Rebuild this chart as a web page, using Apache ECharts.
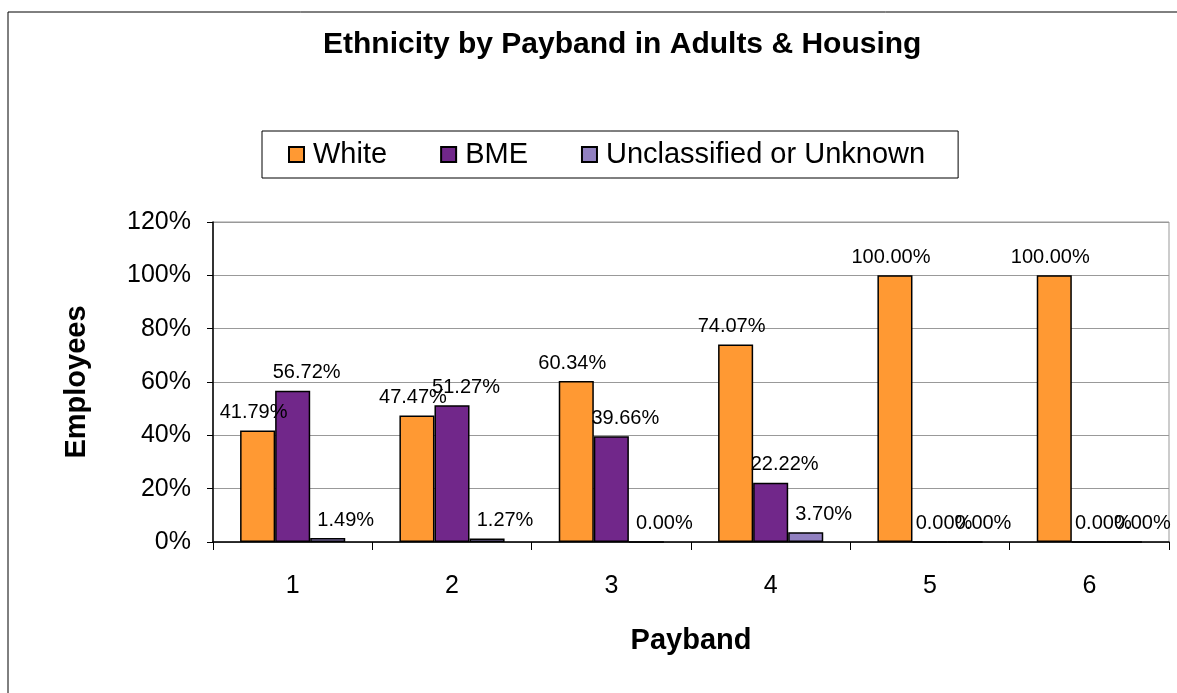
<!DOCTYPE html>
<html>
<head>
<meta charset="utf-8">
<script src="https://cdn.jsdelivr.net/npm/echarts@6/dist/echarts.min.js"></script>
<style>
  html, body { margin: 0; padding: 0; background: #fff; }
  #main { width: 1177px; height: 693px; }
</style>
</head>
<body>
<div id="main"></div>
<script>
// 数据
var paybands = ['1', '2', '3', '4', '5', '6'];
var white = [41.79, 47.47, 60.34, 74.07, 100.00, 100.00];
var bme = [56.72, 51.27, 39.66, 22.22, 0.00, 0.00];
var unknown = [1.49, 1.27, 0.00, 3.70, 0.00, 0.00];
var yTicks = [0, 20, 40, 60, 80, 100, 120];

var font = 'Liberation Sans, Arial, sans-serif';

function pct(p) {
    return p.value.toFixed(2) + '%';
}

function makeSeries(name, data, color, offsetX) {
    return {
        name: name,
        type: 'bar',
        data: data,
        barGap: '0%',
        barCategoryGap: '34%',
        itemStyle: { color: color, borderColor: '#000', borderWidth: 1.5 },
        label: {
            show: true,
            position: 'top',
            distance: 8,
            offset: [offsetX, 0],
            formatter: pct,
            color: '#000',
            fontFamily: font,
            fontSize: 20
        }
    };
}

var myChart = echarts.init(document.getElementById('main'));
var option = {
    animation: false,
    backgroundColor: '#fff',
    graphic: [{
        type: 'rect',
        shape: { x: 8, y: 12, width: 1200, height: 720 },
        style: { fill: 'none', stroke: '#000', lineWidth: 1 },
        silent: true
    }],
    title: {
        text: 'Ethnicity by Payband in Adults & Housing',
        left: 318,
        top: 25,
        textStyle: { fontFamily: font, fontSize: 30, fontWeight: 'bold', color: '#000' }
    },
    legend: {
        left: 262,
        top: 131,
        padding: [9, 33, 9, 26],
        itemGap: 53,
        itemWidth: 15,
        itemHeight: 15,
        borderColor: '#000',
        borderWidth: 1,
        icon: 'rect',
        textStyle: { fontFamily: font, fontSize: 29, color: '#000', padding: [0, 0, 0, 4] },
        data: ['White', 'BME', 'Unclassified or Unknown']
    },
    grid: {
        left: 213,
        top: 222,
        width: 956,
        height: 320,
        show: true,
        borderColor: '#999',
        borderWidth: 1
    },
    xAxis: {
        type: 'category',
        data: paybands,
        name: 'Payband',
        nameLocation: 'middle',
        nameGap: 84,
        nameTextStyle: { fontFamily: font, fontSize: 29, fontWeight: 'bold', color: '#000' },
        axisLine: { lineStyle: { color: '#000', width: 1.5 } },
        axisTick: { show: true, length: 8, lineStyle: { color: '#000' } },
        axisLabel: { fontFamily: font, fontSize: 25, color: '#000', margin: 32 }
    },
    yAxis: {
        type: 'value',
        min: yTicks[0],
        max: yTicks[yTicks.length - 1],
        interval: 20,
        name: 'Employees',
        nameLocation: 'middle',
        nameGap: 122,
        nameTextStyle: { fontFamily: font, fontSize: 29, fontWeight: 'bold', color: '#000' },
        axisLine: { show: true, lineStyle: { color: '#000', width: 1.5 } },
        axisTick: { show: true, length: 6, lineStyle: { color: '#000' } },
        axisLabel: {
            fontFamily: font, fontSize: 25, color: '#000', margin: 22,
            formatter: function (v) { return v + '%'; }
        },
        splitLine: { lineStyle: { color: '#999', width: 1 } }
    },
    series: [
        makeSeries('White', white, '#FF9933', -4),
        makeSeries('BME', bme, '#71278A', 14),
        makeSeries('Unclassified or Unknown', unknown, '#9180C0', 18)
    ]
};
myChart.setOption(option);
</script>
</body>
</html>
